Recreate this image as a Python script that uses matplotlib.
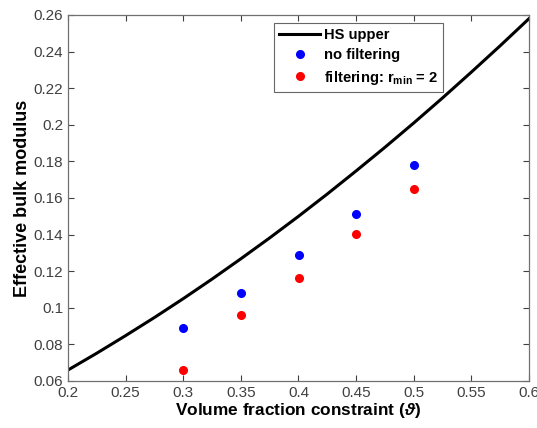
import numpy as np
import matplotlib
matplotlib.use("Agg")
import matplotlib.pyplot as plt

plt.rcParams["font.family"] = ["Liberation Sans", "DejaVu Sans"]
plt.rcParams["mathtext.fontset"] = "custom"
plt.rcParams["mathtext.rm"] = "Liberation Sans:bold"
plt.rcParams["mathtext.bf"] = "Liberation Sans:bold"
plt.rcParams["mathtext.it"] = "Liberation Sans:italic:bold"

# HS upper bound curve
hs_x = [0.2, 0.225, 0.25, 0.275, 0.3, 0.325, 0.35, 0.375, 0.4,
        0.425, 0.45, 0.475, 0.5, 0.525, 0.55, 0.575, 0.6]
hs_y = [0.0660, 0.0752, 0.0848, 0.0947, 0.1050, 0.1157, 0.1268, 0.1382, 0.1500,
        0.1622, 0.1748, 0.1877, 0.2010, 0.2147, 0.2288, 0.2432, 0.2580]

vol_frac = [0.3, 0.35, 0.4, 0.45, 0.5]
no_filter = [0.089, 0.108, 0.129, 0.151, 0.178]
filtered = [0.066, 0.096, 0.1165, 0.1405, 0.165]

fig = plt.figure(figsize=(5.37, 4.28), dpi=100)
ax = fig.add_axes([68 / 537, 1 - 381 / 428, (529 - 68) / 537, (381 - 15) / 428])

ax.plot(hs_x, hs_y, color="black", linewidth=2.2, label="HS upper")
ax.plot(vol_frac, no_filter, "o", color="#0000ff", markersize=5.5,
        linestyle="none", label="no filtering")
ax.plot(vol_frac, filtered, "o", color="#ff0000", markersize=5.5,
        linestyle="none", label=r"filtering: r$_{\mathrm{min}}$ = 2")

ax.set_xlim(0.2, 0.6)
ax.set_ylim(0.06, 0.26)
ax.set_xticks(np.arange(0.2, 0.601, 0.05))
ax.set_yticks(np.arange(0.06, 0.261, 0.02))
ax.set_xticklabels(["0.2", "0.25", "0.3", "0.35", "0.4", "0.45", "0.5", "0.55", "0.6"])
ax.set_yticklabels(["0.06", "0.08", "0.1", "0.12", "0.14", "0.16", "0.18",
                    "0.2", "0.22", "0.24", "0.26"])
ax.tick_params(direction="in", top=True, right=True, labelsize=11,
               colors="#404040", length=4, width=0.8)
for s in ax.spines.values():
    s.set_color("#707070")
    s.set_linewidth(0.9)

ax.set_xlabel(r"Volume fraction constraint ($\vartheta$)", fontsize=12.4,
              fontweight="bold", labelpad=1)
ax.set_ylabel("Effective bulk modulus", fontsize=13, fontweight="bold",
              labelpad=2)

leg = ax.legend(loc="upper left", bbox_to_anchor=(0.447, 0.978),
                borderaxespad=0, prop={"weight": "bold", "size": 10.6},
                fancybox=False, edgecolor="#404040", handlelength=2.8,
                borderpad=0.35, labelspacing=0.42, handletextpad=0.25)
leg.get_frame().set_linewidth(0.8)

fig.savefig("out.png", dpi=100, facecolor="white")
